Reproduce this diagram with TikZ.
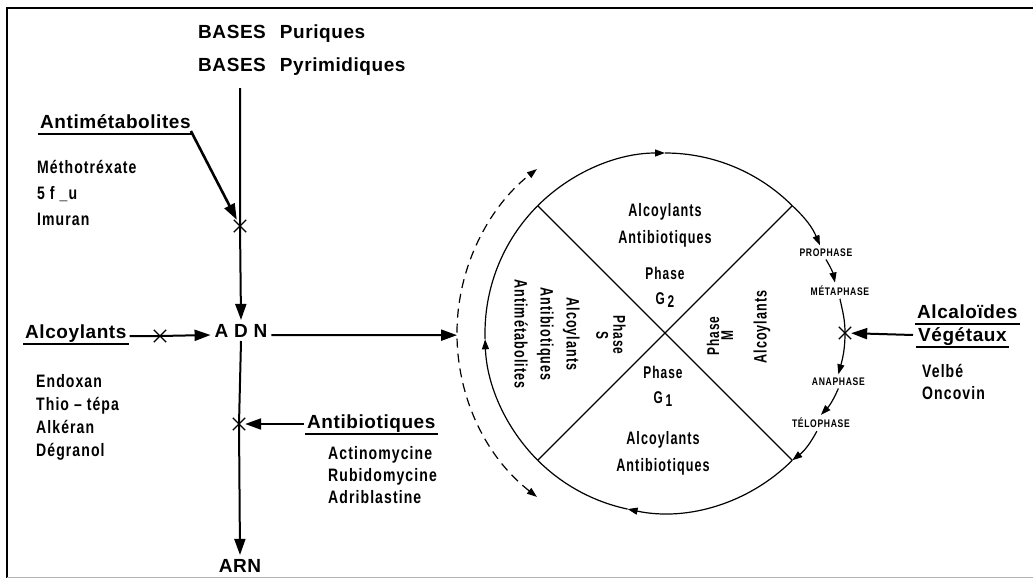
\documentclass[tikz,border=0pt]{standalone}
\usepackage{fontspec}
\usepackage{tikz}
\usetikzlibrary{arrows.meta,shapes.misc}
\newfontfamily\headfont[LetterSpace=3]{Liberation Sans}
\newfontfamily\drugfont[FakeStretch=0.78,LetterSpace=6]{Liberation Sans}
\newfontfamily\cellfont[FakeStretch=0.7,LetterSpace=6]{Liberation Sans}

\begin{document}
\begin{tikzpicture}[x=1pt,y=1pt,
	head/.style={font=\headfont\bfseries\fontsize{19}{19}\selectfont,anchor=base west},
	drugs/.style={font=\drugfont\bfseries\fontsize{18}{23}\selectfont,align=left,anchor=north west},
	cell/.style={font=\cellfont\bfseries\fontsize{18}{27}\selectfont,align=center},
	phasetxt/.style={font=\cellfont\bfseries\fontsize{17}{25}\selectfont,align=center},
	mitose/.style={font=\drugfont\bfseries\fontsize{11}{11}\selectfont,inner sep=3pt},
	xmark/.style={draw,cross out,minimum size=11pt,line width=1.3pt},
	fleche/.style={line width=2pt,-{Triangle[length=16pt,width=11pt]}},
	rond/.style={line width=1.2pt},
	petite/.style={-{Triangle[length=10pt,width=7pt]}},
	souligne/.style={line width=1.7pt}]
	\tikzstyle{every node}+=[inner sep=0pt]
	\useasboundingbox (0,0) rectangle (1033,-578);
	% cadre
	\draw [line width=2pt] (1033,-8) -- (7,-8) -- (7,-578);
	\draw [gray!60,line width=1pt] (7,-577) -- (1033,-577);

	% colonne ADN
	\node [head] (bpur) at (198,-39) {BASES\hspace{14pt}Puriques};
	\node [head] (bpyr) at (198,-71) {BASES\hspace{14pt}Pyrimidiques};
	\coordinate (haut) at (240,-88);
	\node [head,anchor=base,outer sep=4pt] (adn) at (241,-337) {A D N};
	\node [head,anchor=base,outer sep=4pt] (arn) at (240,-572) {ARN};
	\node [xmark] (xa) at (240,-226) {};
	\node [xmark] (xb) at (239,-424) {};
	\node [xmark] (xc) at (160,-336) {};
	\draw [fleche] (haut) -- (xa.center) -- (adn.north);
	\draw [fleche] (adn.south) -- (xb.center) -- (arn.north);

	% inhibiteurs
	\node [head] (antim) at (40,-128) {Antimétabolites};
	\node [drugs] (antimlist) at (37,-160) {Méthotréxate\\[3pt]5 f \_u\\[3pt]Imuran};
	\node [head] (alc) at (25,-338) {Alcoylants};
	\node [drugs] (alclist) at (36,-374) {Endoxan\\Thio \textendash\ tépa\\Alkéran\\Dégranol};
	\node [head] (antib) at (307,-428) {Antibiotiques};
	\node [drugs,font=\drugfont\bfseries\fontsize{18}{22}\selectfont] (antiblist) at (328,-446) {Actinomycine\\Rubidomycine\\Adriblastine};
	\node [head] (alcal) at (917,-318) {Alcaloïdes};
	\node [head] (veget) at (918,-341) {Végétaux};
	\node [drugs,font=\drugfont\bfseries\fontsize{18}{22}\selectfont] (vegelist) at (922,-364) {Velbé\\Oncovin};
	\foreach \n in {antim,alc,antib,alcal,veget}
		\draw [souligne] ([xshift=-2pt,yshift=-6pt]\n.base west) -- ([xshift=2pt,yshift=-6pt]\n.base east);
	\draw [fleche,line width=2.6pt] ([yshift=-3pt]antim.base east) -- (xa);
	\draw [fleche] ([xshift=3pt,yshift=2pt]alc.base east) -- (xc.center) -- ([yshift=2pt]adn.base west);
	\draw [fleche] ([xshift=-3pt,yshift=4pt]antib.base west) -- (xb);

	% cycle cellulaire
	\coordinate (C) at (665,-333);
	\path (C) ++(45:180) coordinate (q1);
	\path (C) ++(135:180) coordinate (q2);
	\path (C) ++(225:180) coordinate (q3);
	\path (C) ++(-45:180) coordinate (q4);
	\path (C) ++(180.6:208) coordinate (dl);
	\draw [rond,petite] (q2) arc (135:90:180);
	\draw [rond] (C) ++(90:180) arc (90:45:180);
	\draw [rond,petite] (q3) arc (225:182:180);
	\draw [rond] (C) ++(182:180) arc (182:135:180);
	\draw [rond,petite] (q4) arc (315:258:180);
	\draw [rond] (C) ++(258:180) arc (258:225:180);
	\draw [rond] (q2) -- (q4);
	\draw [rond] (q1) -- (q3);
	\draw [rond,dash pattern=on 9pt off 6pt,{Triangle[length=10pt,width=7pt]}-{Triangle[length=10pt,width=7pt]}]
		(C) ++(232:208) arc (232:128:208);
	\draw [fleche] ([yshift=2pt]adn.base east) -- (dl);

	% mitose
	\path (C) ++(26.6:180) node [mitose] (pro) {PROPHASE};
	\path (C) ++(13.6:180) node [mitose] (meta) {MÉTAPHASE};
	\path (C) ++(0:180) node [xmark] (xd) {};
	\path (C) ++(-15.6:180) node [mitose] (ana) {ANAPHASE};
	\path (C) ++(-30:180) node [mitose] (telo) {TÉLOPHASE};
	\draw [rond,petite] (q1) to[bend left=12] ([xshift=-6pt]pro.north);
	\draw [rond,petite] (pro.south) to[bend left=10] ([xshift=-5pt]meta.north);
	\draw [rond,petite] (meta.south) to[out=-78,in=90] (xd.center) to[out=-90,in=75] (ana.north);
	\draw [rond,petite] (ana.south) to[bend left=10] (telo.north);
	\draw [rond,petite] ([xshift=-4pt]telo.south) to[bend left=12] (q4);
	\draw [fleche] ([xshift=-5pt,yshift=6pt]veget.base west) -- (xd);

	% textes des phases
	\node [cell] (g2drogue) at (665,-225) {Alcoylants\\Antibiotiques};
	\node [phasetxt] (g2) at (665,-287) {Phase\\G\,\raisebox{-3pt}{2}};
	\node [phasetxt] (g1) at (663,-386) {Phase\\G\,\raisebox{-3pt}{1}};
	\node [cell] (g1drogue) at (663,-453) {Alcoylants\\Antibiotiques};
	\node [phasetxt,rotate=-90,font=\cellfont\bfseries\fontsize{17}{17}\selectfont] (s) at (611,-335) {Phase\\S};
	\node [cell,rotate=-90,font=\cellfont\bfseries\fontsize{18}{26}\selectfont] (sdrogue) at (547,-334) {Alcoylants\\Antibiotiques\\Antimétabolites};
	\node [phasetxt,rotate=90,font=\cellfont\bfseries\fontsize{17}{14}\selectfont] (m) at (720,-336) {Phase\\M};
	\node [cell,rotate=90] (mdrogue) at (762,-327) {Alcoylants};
\end{tikzpicture}
\end{document}
